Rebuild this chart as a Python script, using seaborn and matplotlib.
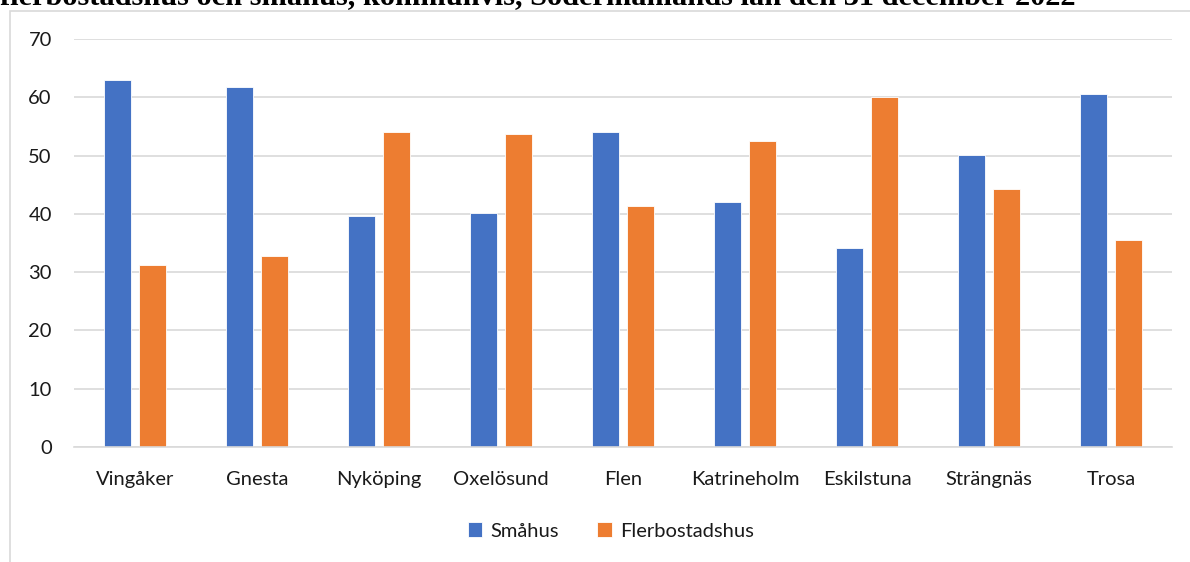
import pandas as pd
import matplotlib.pyplot as plt
import matplotlib.patches as patches
import seaborn as sns

# Values (percent)
kommuner = ['Vingåker', 'Gnesta', 'Nyköping', 'Oxelösund', 'Flen',
            'Katrineholm', 'Eskilstuna', 'Strängnäs', 'Trosa']
smahus = [62.9, 61.7, 39.7, 40.2, 54.1, 42.0, 34.1, 50.1, 60.6]
flerbostadshus = [31.3, 32.8, 54.1, 53.7, 41.3, 52.5, 60.0, 44.3, 35.6]
series_names = ['Småhus', 'Flerbostadshus']
y_ticks = [0, 10, 20, 30, 40, 50, 60, 70]
title_text = 'flerbostadshus och småhus, kommunvis, Södermanlands län den 31 december 2022'

df = pd.DataFrame({
    'kommun': kommuner * 2,
    'typ': [series_names[0]] * len(kommuner) + [series_names[1]] * len(kommuner),
    'andel': smahus + flerbostadshus,
})

sns.set_theme(style='white')
plt.rcParams['font.family'] = ['Lato', 'DejaVu Sans']

fig = plt.figure(figsize=(11.9, 5.62), dpi=100)
W, H = 1190, 562
ax = fig.add_axes([74 / W, 1 - 447 / H, (1172 - 74) / W, (447 - 39) / H])

sns.barplot(data=df, x='kommun', y='andel', hue='typ', ax=ax,
            palette=['#4472C4', '#ED7D31'], saturation=1, width=0.574, gap=0.23,
            edgecolor='white', linewidth=0.6, legend=True)

ax.set_ylim(0, 70)
ax.set_yticks(y_ticks)
ax.set_xlim(-0.5, len(kommuner) - 0.5)
ax.yaxis.grid(True, color='#d9d9d9', linewidth=1.2)
ax.set_axisbelow(True)
for s in ['top', 'right', 'left']:
    ax.spines[s].set_visible(False)
ax.spines['bottom'].set_color('#d9d9d9')
ax.spines['bottom'].set_linewidth(1.2)
ax.tick_params(axis='both', length=0, labelsize=14.5, colors='#1a1a1a')
ax.tick_params(axis='y', pad=16)
ax.tick_params(axis='x', pad=17)
ax.set_xlabel('')
ax.set_ylabel('')

handles, labels = ax.get_legend_handles_labels()
ax.get_legend().remove()
fig.legend(handles, labels, loc='center', bbox_to_anchor=(611 / W, 1 - 531 / H),
           ncol=2, frameon=False, fontsize=14.5, handlelength=0.7, handleheight=0.7,
           handletextpad=0.45, columnspacing=1.9, labelcolor='#1a1a1a')

# chart area border (Excel style), running off the right and bottom edges
fig.patches.append(patches.Rectangle((10 / W, -0.1), 1.2, 1 - 11 / H + 0.1,
                                     transform=fig.transFigure, fill=False,
                                     edgecolor='#d9d9d9', linewidth=1.2))

# title of the document, cut off at the top of the image as in the source
fig.text(0.0, 1 - 5 / H, title_text, ha='left', va='baseline',
         fontsize=21.9, fontweight='bold', family='Liberation Serif', color='black')

fig.savefig('out.png', dpi=100)
